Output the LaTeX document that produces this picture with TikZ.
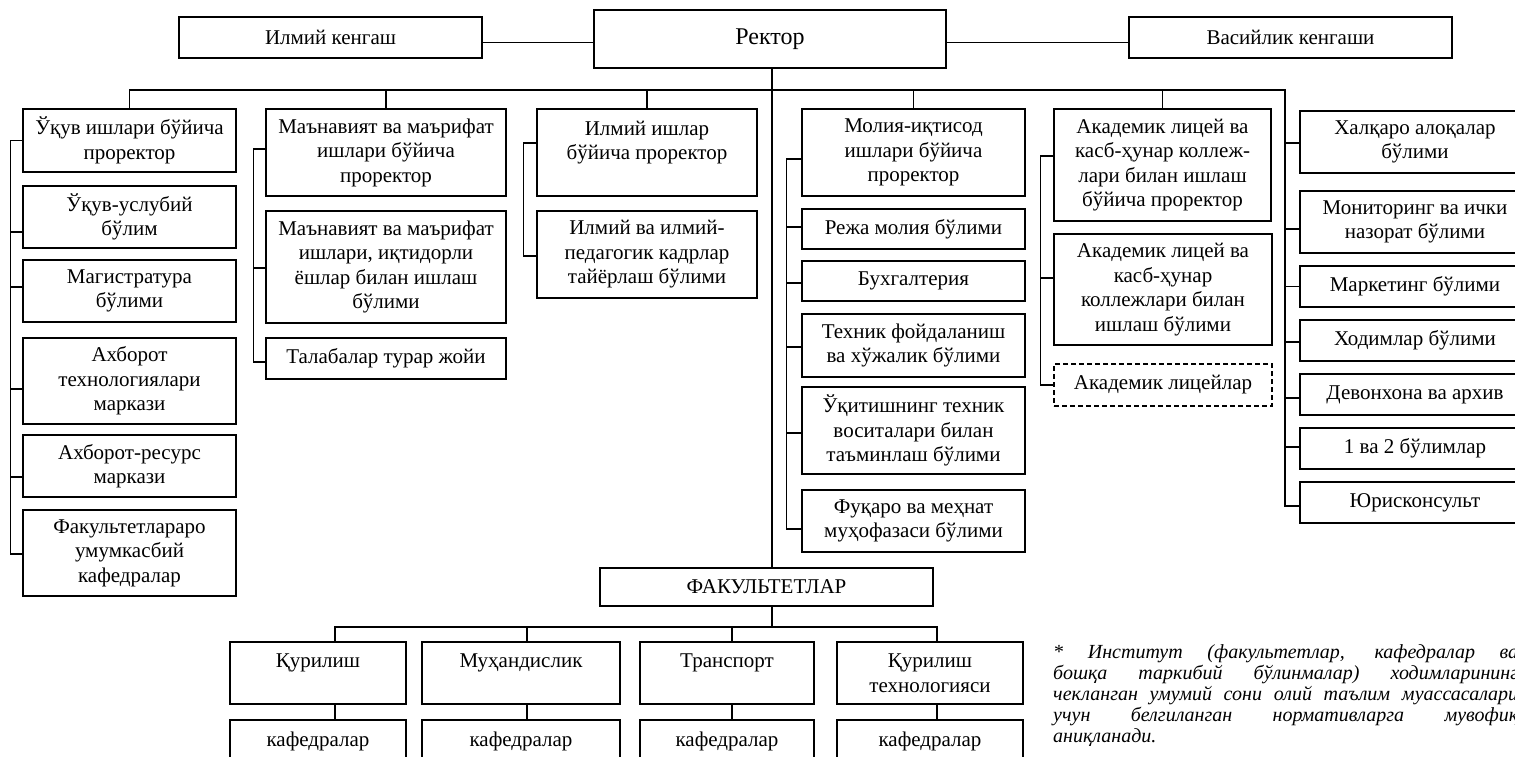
\documentclass[tikz,border=0pt]{standalone}
\usepackage{fontspec}
\setmainfont{Liberation Serif}
\tikzset{
 bx/.style={draw, line width=1.3pt, align=center, inner sep=2pt, font=\fontsize{21}{24.5}\selectfont},
 ln/.style={line width=1.3pt},
 dsh/.style={dash pattern=on 5pt off 3pt, line width=1.8pt},
}
\newcommand\obox[7][]{%
 \pgfmathsetmacro\oboxw{#5-#3}%
 \pgfmathsetmacro\oboxh{#6-#4}%
 \node[bx,minimum width=\oboxw pt,minimum height=\oboxh pt,#1] (#2) at ({(#3+#5)/2},{(#4+#6)/2}) {#7};}
\newcommand\ostub[3]{\draw[ln] ([yshift=#2pt]#1.west) -- ++(-#3,0);}
\begin{document}
\begin{tikzpicture}[x=1pt,y=-1pt]
\useasboundingbox (0,0) rectangle (1515,757);
% top row
\obox{ilm}{179}{17}{482}{58}{Илмий кенгаш}
\obox[font=\fontsize{24}{27}\selectfont]{rek}{594}{10}{946}{68}{Ректор}
\obox{vas}{1129}{17}{1452}{58}{Васийлик кенгаши}
\draw[ln] ([yshift=-5pt]ilm.east) -- ([yshift=-5pt]ilm.east -| rek.west);
\draw[ln] ([yshift=-5pt]vas.west) -- ([yshift=-5pt]vas.west -| rek.east);
% column 1
\obox{c1a}{23}{109}{236}{172}{Ўқув ишлари бўйича\\проректор}
\obox{c1b}{23}{186}{236}{248}{Ўқув-услубий\\бўлим}
\obox{c1c}{23}{260}{236}{322}{Магистратура\\бўлими}
\obox{c1d}{23}{338}{236}{424}{Ахборот\\технологиялари\\маркази}
\obox{c1e}{23}{435}{236}{497}{Ахборот-ресурс\\маркази}
\obox{c1f}{23}{510}{236}{596}{Факультетлараро\\умумкасбий\\кафедралар}
% column 2
\obox{c2a}{266}{109}{506}{196}{Маънавият ва маърифат\\ишлари бўйича\\проректор}
\obox{c2b}{266}{211}{506}{323}{Маънавият ва маърифат\\ишлари, иқтидорли\\ёшлар билан ишлаш\\бўлими}
\obox{c2c}{266}{338}{506}{379}{Талабалар турар жойи}
% column 3
\obox{c3a}{537}{109}{757}{196}{Илмий ишлар\\бўйича проректор\\\mbox{}}
\obox{c3b}{537}{211}{757}{298}{Илмий ва илмий-\\педагогик кадрлар\\тайёрлаш бўлими}
% column 4
\obox{c4a}{802}{109}{1025}{196}{Молия-иқтисод\\ишлари бўйича\\проректор}
\obox{c4b}{802}{209}{1025}{249}{Режа молия бўлими}
\obox{c4c}{802}{261}{1025}{301}{Бухгалтерия}
\obox{c4d}{802}{314}{1025}{377}{Техник фойдаланиш\\ва хўжалик бўлими}
\obox{c4e}{802}{387}{1025}{474}{Ўқитишнинг техник\\воситалари билан\\таъминлаш бўлими}
\obox{c4f}{802}{490}{1025}{552}{Фуқаро ва меҳнат\\муҳофазаси бўлими}
% column 5
\obox{c5a}{1054}{109}{1271}{221}{Академик лицей ва\\касб-ҳунар коллеж-\\лари билан ишлаш\\бўйича проректор}
\obox{c5b}{1054}{234}{1272}{345}{Академик лицей ва\\касб-ҳунар\\коллежлари билан\\ишлаш бўлими}
\obox[dsh]{c5c}{1054}{364}{1272}{406}{Академик лицейлар}
% column 6
\obox{r1}{1300}{111}{1530}{173}{Халқаро алоқалар\\бўлими}
\obox{r2}{1300}{191}{1530}{253}{Мониторинг ва ички\\назорат бўлими}
\obox{r3}{1300}{266}{1530}{307}{Маркетинг бўлими}
\obox{r4}{1300}{320}{1530}{361}{Ходимлар бўлими}
\obox{r5}{1300}{374}{1530}{415}{Девонхона ва архив}
\obox{r6}{1300}{428}{1530}{469}{1 ва 2 бўлимлар}
\obox{r7}{1300}{482}{1530}{523}{Юрисконсульт}
% faculties
\obox{fak}{600}{568}{933}{606}{ФАКУЛЬТЕТЛАР}
\obox{f1}{230}{642}{406}{704}{Қурилиш\\\mbox{}}
\obox{f2}{422}{642}{620}{704}{Муҳандислик\\\mbox{}}
\obox{f3}{640}{642}{814}{704}{Транспорт\\\mbox{}}
\obox{f4}{837}{642}{1023}{704}{Қурилиш\\технологияси}
\obox{k1}{230}{720}{406}{762}{кафедралар}
\obox{k2}{422}{720}{620}{762}{кафедралар}
\obox{k3}{640}{720}{814}{762}{кафедралар}
\obox{k4}{837}{720}{1023}{762}{кафедралар}
% main bus
\coordinate (busR) at (1285,90);
\draw[ln] (c1a.north) |- (busR) |- ([yshift=-3.5pt]r7.west);
\foreach \n in {c2a,c3a,c4a,c5a}{\draw[ln] (\n.north) -- (\n.north |- busR);}
\draw[ln] ([xshift=2pt]rek.south) -- ([xshift=2pt]rek.south |- fak.north);
% column spines
\draw[ln] ([yshift=0pt]c1a.west) -- ++(-12,0) |- ([yshift=-1pt]c1f.west);
\ostub{c1b}{-15}{12}\ostub{c1c}{4}{12}\ostub{c1d}{-8}{12}\ostub{c1e}{-11}{12}
\draw[ln] ([yshift=3.5pt]c2a.west) -- ++(-12,0) |- ([yshift=-3.5pt]c2c.west);
\ostub{c2b}{-1}{12}
\draw[ln] ([yshift=9.5pt]c3a.west) -- ++(-13,0) |- ([yshift=-1.5pt]c3b.west);
\draw[ln] ([yshift=-6.5pt]c4a.west) -- ++(-15,0) |- ([yshift=-8pt]c4f.west);
\ostub{c4b}{2}{15}\ostub{c4c}{-2}{15}\ostub{c4d}{-1.5}{15}\ostub{c4e}{-2.5}{15}
\draw[ln] ([yshift=9pt]c5a.west) -- ++(-13,0) |- (c5c.west);
\ostub{c5b}{11.5}{13}
\ostub{r1}{-1}{15}\ostub{r2}{-7}{15}\ostub{r3}{0}{15}\ostub{r4}{-1.5}{15}\ostub{r5}{-3.5}{15}\ostub{r6}{1.5}{15}
% faculty bus
\coordinate (fbus) at (772,627);
\draw[ln] ([xshift=5.5pt]fak.south) -- (fbus);
\draw[ln] ([xshift=17pt]f1.north) |- (fbus) -| ([xshift=7pt]f4.north);
\draw[ln] ([xshift=6pt]f2.north) -- ++(0,-15);
\draw[ln] ([xshift=5pt]f3.north) -- ++(0,-15);
\draw[ln] ([xshift=17pt]f1.south) -- ([xshift=17pt]k1.north);
\draw[ln] ([xshift=6pt]f2.south) -- ([xshift=6pt]k2.north);
\draw[ln] ([xshift=5pt]f3.south) -- ([xshift=5pt]k3.north);
\draw[ln] ([xshift=7pt]f4.south) -- ([xshift=7pt]k4.north);
% note
\node[font=\fontsize{20}{21}\selectfont\itshape, text width=465pt, align=justify, anchor=north west, inner sep=0pt] (note) at (1053,644)
{* Институт (факультетлар, кафедралар ва\linebreak бошқа таркибий бўлинмалар) ходимларининг\linebreak чекланган умумий сони олий таълим муассасалари\linebreak учун белгиланган нормативларга мувофиқ\linebreak аниқланади.};
\end{tikzpicture}
\end{document}
